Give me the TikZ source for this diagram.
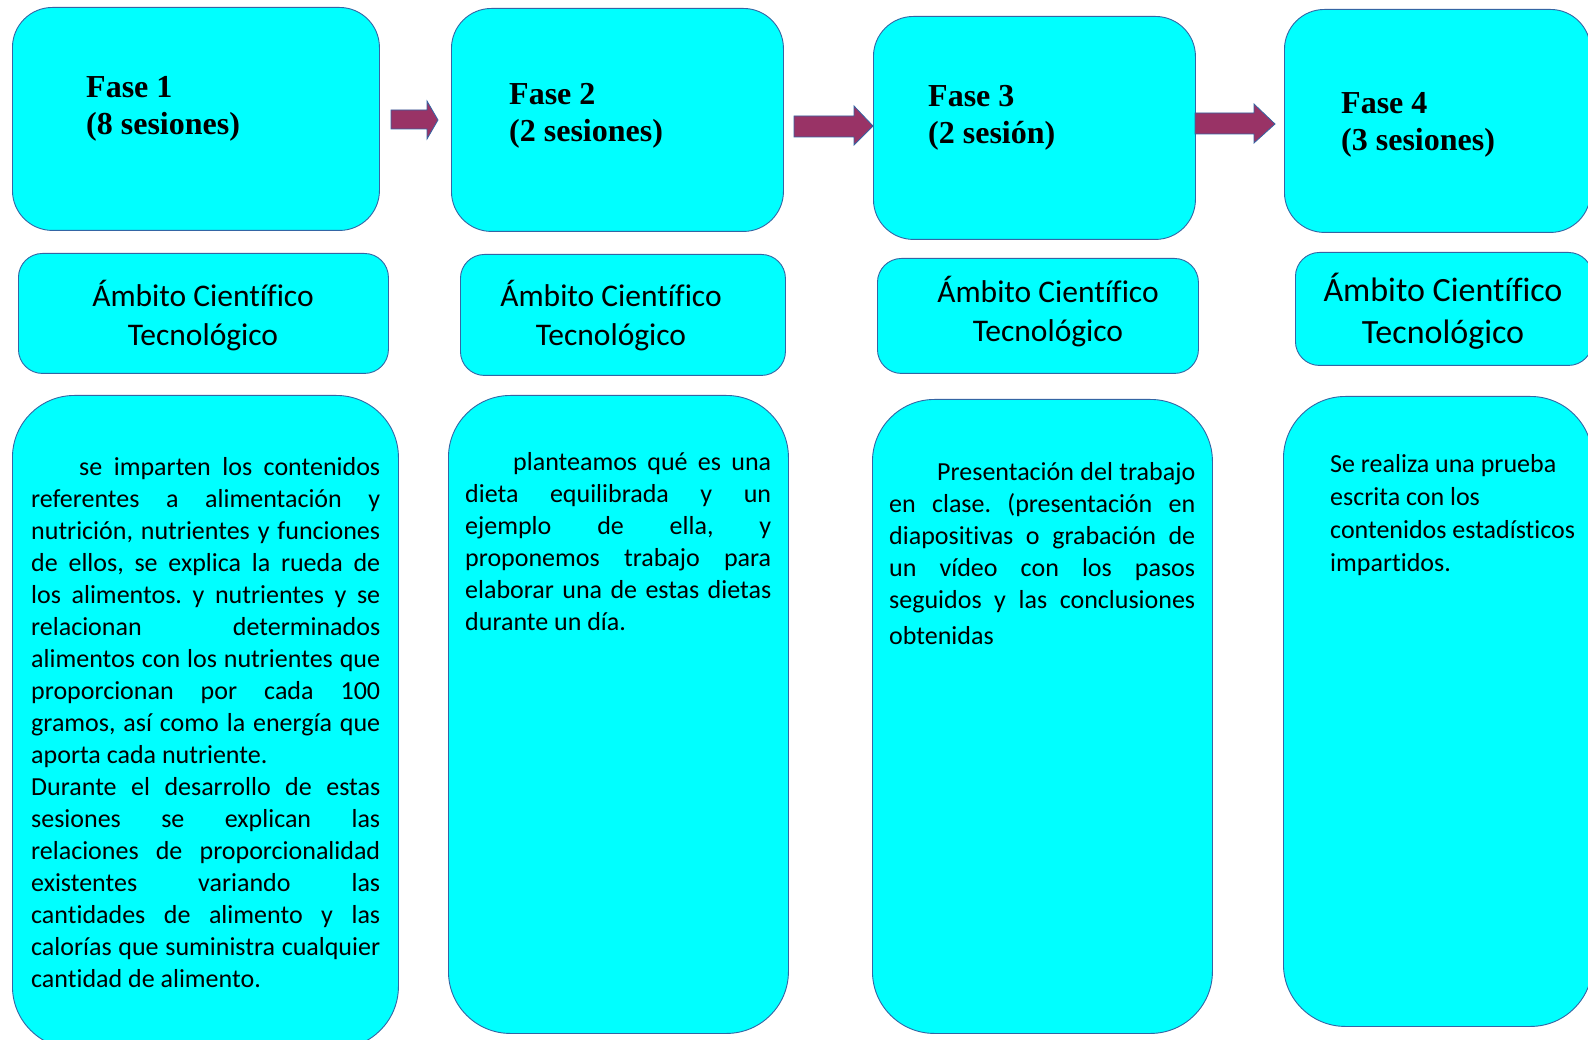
\documentclass[tikz,border=0pt]{standalone}
\usepackage{fontspec}
\setmainfont{Carlito}[Ligatures=CommonOff]
\newfontfamily\titlefont{Liberation Serif}
\definecolor{boxfill}{RGB}{0,255,255}
\definecolor{boxline}{RGB}{52,101,164}
\definecolor{arrowfill}{RGB}{153,51,102}
\newcommand\JL[2]{\makebox[#1][s]{#2}}
\frenchspacing
\tikzset{
  topbox/.style={draw=boxline, fill=boxfill, line width=0.9pt, rounded corners=40pt, anchor=north west, inner sep=0pt},
  ambbox/.style={draw=boxline, fill=boxfill, line width=0.9pt, rounded corners=24pt, anchor=north west, inner sep=0pt},
  descbox/.style={draw=boxline, fill=boxfill, line width=0.9pt, rounded corners=62pt, anchor=north west, inner sep=0pt},
  titletext/.style={anchor=base west, inner sep=0pt, align=left, font=\titlefont\bfseries\fontsize{32}{37.5}\selectfont},
  ambtext/.style={anchor=base, inner sep=0pt, align=center},
  desctext/.style={anchor=base west, inner sep=0pt, align=left, font=\fontsize{26}{32}\selectfont},
  blockarrow/.style={draw=boxline, fill=arrowfill, line width=0.8pt, line join=miter}
}
\begin{document}
\begin{tikzpicture}[x=1pt,y=-1pt]
\useasboundingbox (0,0) rectangle (1588,1040);
\clip (0,0) rectangle (1588,1040);
\fill[white] (0,0) rectangle (1588,1040);

% top boxes
\node[topbox, minimum width=367pt, minimum height=223pt] (f1) at (12,7) {};
\node[topbox, minimum width=332pt, minimum height=223pt] (f2) at (451,8) {};
\node[topbox, minimum width=322pt, minimum height=223pt] (f3) at (873,16) {};
\node[topbox, minimum width=306pt, minimum height=223pt] (f4) at (1284,9) {};

% (anchored at the baseline of the last line)
\node[titletext] (t1) at (86,135) {Fase 1\\(8 sesiones)};
\node[titletext] (t2) at (509,142) {Fase 2\\(2 sesiones)};
\node[titletext] (t3) at (928,144) {Fase 3\\(2 sesión)};
\node[titletext] (t4) at (1341,151) {Fase 4\\(3 sesiones)};

% block arrows
\draw[blockarrow] (391,110) -- (427,110) -- (427,101) -- (438,120) -- (427,139) -- (427,129) -- (391,129) -- cycle;
\draw[blockarrow] (794,116) -- (854,116) -- (854,106) -- (873,126) -- (854,145) -- (854,137) -- (794,137) -- cycle;
\draw[blockarrow] (1195,113) -- (1254,113) -- (1254,104) -- (1275,124) -- (1254,143) -- (1254,134) -- (1195,134) -- cycle;

% ambito boxes
\node[ambbox, minimum width=370pt, minimum height=120pt] (a1) at (18,253) {};
\node[ambbox, minimum width=325pt, minimum height=121pt] (a2) at (460,254) {};
\node[ambbox, minimum width=321pt, minimum height=115pt] (a3) at (877,258) {};
\node[ambbox, minimum width=297pt, minimum height=113pt] (a4) at (1295,252) {};

\node[ambtext, font=\fontsize{31.5}{39}\selectfont] (at1) at (203,346) {Ámbito Científico\\Tecnológico};
\node[ambtext, font=\fontsize{31.5}{39}\selectfont] (at2) at (611,346) {Ámbito Científico\\Tecnológico};
\node[ambtext, font=\fontsize{31.5}{39}\selectfont] (at3) at (1048,342) {Ámbito Científico\\Tecnológico};
\node[ambtext, font=\fontsize{34}{42}\selectfont] (at4) at (1443,344) {Ámbito Científico\\Tecnológico};

% description boxes
\node[descbox, minimum width=386pt, minimum height=653pt] (d1) at (12,395) {};
\node[descbox, minimum width=340pt, minimum height=638pt] (d2) at (448,395) {};
\node[descbox, minimum width=340pt, minimum height=634pt] (d3) at (872,399) {};
\node[descbox, minimum width=309pt, minimum height=630pt] (d4) at (1283,396) {};

\node[desctext] (dt1) at (31,987) {%
\JL{349pt}{\hspace*{48pt}se imparten los contenidos}\\
\JL{349pt}{referentes a alimentación y}\\
\JL{349pt}{nutrición, nutrientes y funciones}\\
\JL{349pt}{de ellos, se explica la rueda de}\\
\JL{349pt}{los alimentos. y nutrientes y se}\\
\JL{349pt}{relacionan determinados}\\
\JL{349pt}{alimentos con los nutrientes que}\\
\JL{349pt}{proporcionan por cada 100}\\
\JL{349pt}{gramos, así como la energía que}\\
aporta cada nutriente.\\
\JL{349pt}{Durante el desarrollo de estas}\\
\JL{349pt}{sesiones se explican las}\\
\JL{349pt}{relaciones de proporcionalidad}\\
\JL{349pt}{existentes variando las}\\
\JL{349pt}{cantidades de alimento y las}\\
\JL{349pt}{calorías que suministra cualquier}\\
cantidad de alimento.};

\node[desctext] (dt2) at (465,630) {%
\JL{306pt}{\hspace*{48pt}planteamos qué es una}\\
\JL{306pt}{dieta equilibrada y un}\\
\JL{306pt}{ejemplo de ella, y}\\
\JL{306pt}{proponemos trabajo para}\\
\JL{306pt}{elaborar una de estas dietas}\\
durante un día.};

\node[desctext] (dt3) at (889,644) {%
\JL{306pt}{\hspace*{48pt}Presentación del trabajo}\\
\JL{306pt}{en clase. (presentación en}\\
\JL{306pt}{diapositivas o grabación de}\\
\JL{306pt}{un vídeo con los pasos}\\
\JL{306pt}{seguidos y las conclusiones}\\[3.5pt]
obtenidas};

\node[desctext, font=\fontsize{26}{32.8}\selectfont] (dt4) at (1330,571) {%
Se realiza una prueba\\
escrita con los\\
contenidos estadísticos\\
impartidos.};
\end{tikzpicture}
\end{document}
